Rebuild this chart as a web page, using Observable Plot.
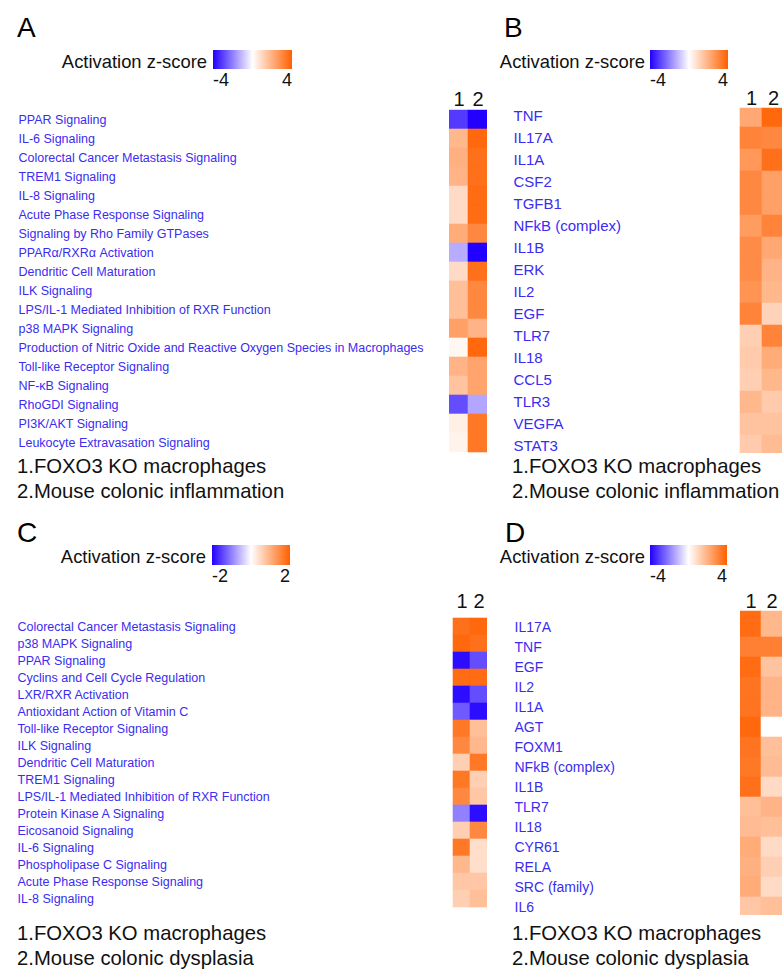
<!DOCTYPE html>
<html>
<head>
<meta charset="utf-8">
<script src="https://cdn.jsdelivr.net/npm/d3@7"></script>
<script src="https://cdn.jsdelivr.net/npm/@observablehq/plot@0.6"></script>
<style>
  html, body { margin: 0; padding: 0; background: #fff; overflow: hidden; }
  #root { position: relative; width: 782px; height: 969px; overflow: hidden; background: #fff;
          font-family: "Liberation Sans", Arial, Helvetica, sans-serif; }
  #root > svg, #root > figure, #root > div { position: absolute; margin: 0; }
</style>
</head>
<body>
<div id="root"></div>
<script>
// ---------------- DATA ----------------
const columns = ["1", "2"];

const rowsA = ["PPAR Signaling", "IL-6 Signaling", "Colorectal Cancer Metastasis Signaling", "TREM1 Signaling",
  "IL-8 Signaling", "Acute Phase Response Signaling", "Signaling by Rho Family GTPases", "PPARα/RXRα Activation",
  "Dendritic Cell Maturation", "ILK Signaling", "LPS/IL-1 Mediated Inhibition of RXR Function", "p38 MAPK Signaling",
  "Production of Nitric Oxide and Reactive Oxygen Species in Macrophages", "Toll-like Receptor Signaling",
  "NF-κB Signaling", "RhoGDI Signaling", "PI3K/AKT Signaling", "Leukocyte Extravasation Signaling"];
const zA1 = [-3.1, 1.8, 2.0, 1.9, 0.9, 0.9, 2.1, -1.3, 0.9, 1.6, 1.6, 2.4, 0.2, 1.9, 1.5, -2.8, 0.4, 0.3];
const zA2 = [-4.0, 3.8, 3.6, 3.6, 3.7, 3.7, 3.0, -4.0, 3.6, 3.0, 3.0, 1.9, 3.8, 2.3, 2.3, -1.4, 3.4, 3.4];

const rowsB = ["TNF", "IL17A", "IL1A", "CSF2", "TGFB1", "NFkB (complex)", "IL1B", "ERK", "IL2", "EGF",
  "TLR7", "IL18", "CCL5", "TLR3", "VEGFA", "STAT3"];
const zB1 = [2.2, 3.1, 2.6, 3.0, 3.0, 2.5, 2.9, 2.9, 2.7, 3.1, 1.2, 1.3, 1.2, 1.8, 1.5, 1.3];
const zB2 = [3.8, 3.0, 3.6, 2.4, 2.4, 3.1, 2.2, 1.9, 1.8, 1.1, 3.1, 2.1, 1.8, 1.3, 1.5, 1.7];

const rowsC = ["Colorectal Cancer Metastasis Signaling", "p38 MAPK Signaling", "PPAR Signaling",
  "Cyclins and Cell Cycle Regulation", "LXR/RXR Activation", "Antioxidant Action of Vitamin C",
  "Toll-like Receptor Signaling", "ILK Signaling", "Dendritic Cell Maturation", "TREM1 Signaling",
  "LPS/IL-1 Mediated Inhibition of RXR Function", "Protein Kinase A Signaling", "Eicosanoid Signaling",
  "IL-6 Signaling", "Phospholipase C Signaling", "Acute Phase Response Signaling", "IL-8 Signaling"];
const zC1 = [1.8, 1.9, -1.9, 1.85, -1.9, -1.3, 1.7, 1.5, 0.6, 1.7, 1.5, -1.0, 0.6, 1.7, 0.9, 0.7, 0.6];
const zC2 = [1.9, 1.8, -1.4, 1.85, -1.4, -1.9, 0.8, 0.9, 1.7, 0.6, 0.7, -1.9, 1.5, 0.4, 0.4, 0.7, 0.8];

// first entry: row scrolled out of view at the top of panel D (label cut off)
const rowsD = ["", "IL17A", "TNF", "EGF", "IL2", "IL1A", "AGT", "FOXM1", "NFkB (complex)", "IL1B", "TLR7",
  "IL18", "CYR61", "RELA", "SRC (family)", "IL6"];
const zD1 = [3.7, 3.7, 3.2, 3.7, 3.5, 3.5, 3.8, 3.5, 3.4, 3.6, 1.6, 1.7, 2.1, 2.0, 2.1, 1.4];
const zD2 = [1.8, 1.8, 3.2, 1.5, 1.9, 1.9, 0.0, 1.6, 1.7, 0.9, 1.9, 1.6, 0.9, 1.2, 0.9, 1.6];

const legendTicksA = [-4, 4], legendTicksB = [-4, 4], legendTicksC = [-2, 2], legendTicksD = [-4, 4];
const legendTitle = "Activation z-score";
const letters = ["A", "B", "C", "D"];
const footA = ["1.FOXO3 KO macrophages", "2.Mouse colonic inflammation"];
const footB = ["1.FOXO3 KO macrophages", "2.Mouse colonic inflammation"];
const footC = ["1.FOXO3 KO macrophages", "2.Mouse colonic dysplasia"];
const footD = ["1.FOXO3 KO macrophages", "2.Mouse colonic dysplasia"];

// ---------------- STYLE ----------------
const BLUE = "#2200ff", WHITE = "#ffffff", ORANGE = "#ff6000";
const LABEL = "#3a2cf2";
const FONT = '"Liberation Sans", Arial, Helvetica, sans-serif';
const interp = d3.piecewise(d3.interpolateRgb, [BLUE, WHITE, ORANGE]);

const root = document.getElementById("root");

function table(rows, v1, v2) {
  const out = [];
  rows.forEach((r, i) => {
    out.push({row: r, col: columns[0], z: v1[i]});
    out.push({row: r, col: columns[1], z: v2[i]});
  });
  return out;
}

function heat(cfg) {
  const data = table(cfg.rows, cfg.v1, cfg.v2);
  const p = Plot.plot({
    width: cfg.width, height: cfg.height,
    marginLeft: cfg.ml, marginRight: cfg.mr, marginTop: cfg.mt, marginBottom: cfg.mb,
    style: {fontFamily: FONT, background: "transparent", overflow: "visible"},
    x: {type: "band", domain: columns, padding: 0, axis: null},
    y: {type: "band", domain: cfg.rows, padding: 0, axis: null, range: cfg.yr},
    color: {type: "linear", domain: [-cfg.m, cfg.m], interpolate: interp, clamp: true},
    marks: [
      Plot.cell(data, {x: "col", y: "row", fill: "z", stroke: "z", strokeWidth: 0.6, inset: 0, clip: "frame"}),
      Plot.text(columns, {x: d => d, text: d => d, frameAnchor: "top", lineAnchor: "bottom",
        dy: cfg.hdy, fontSize: 20, fill: "#111"}),
      Plot.text(cfg.rows, {y: d => d, text: d => d, frameAnchor: "left", textAnchor: "start",
        dx: cfg.ldx, fontSize: cfg.lfs, fill: LABEL})
    ]
  });
  p.style.left = cfg.left + "px";
  p.style.top = cfg.top + "px";
  root.appendChild(p);
}

// A: rows 106.4–455.6 (view clipped to 109.3–455)
heat({rows: rowsA, v1: zA1, v2: zA2, m: 4, left: 0, top: 80, width: 490, height: 385,
  ml: 449, mr: 3, mt: 29.3, mb: 10, yr: [26.4, 375.6], hdy: -4, ldx: -431, lfs: 12.5});
// B: rows 103.5–458.7 (view clipped to 107.7–453)
heat({rows: rowsB, v1: zB1, v2: zB2, m: 4, left: 490, top: 80, width: 294, height: 385,
  ml: 249, mr: 0, mt: 27.7, mb: 12, yr: [23.5, 378.7], hdy: -3, ldx: -226, lfs: 15});
// C: rows 611–914.7
heat({rows: rowsC, v1: zC1, v2: zC2, m: 2, left: 0, top: 580, width: 490, height: 345,
  ml: 452, mr: 3, mt: 30.7, mb: 12, yr: [31, 334.7], hdy: -3, ldx: -435, lfs: 12.5});
// D: rows 595.7–919.1 (view clipped to 610.7–915)
heat({rows: rowsD, v1: zD1, v2: zD2, m: 4, left: 490, top: 580, width: 294, height: 345,
  ml: 250, mr: 2, mt: 30.7, mb: 10, yr: [15.7, 339.1], hdy: -3, ldx: -226, lfs: 14});

// ---------------- ANNOTATIONS (letters, legends, footers) ----------------
const svg = d3.create("svg").attr("width", 782).attr("height", 969)
  .style("left", "0px").style("top", "0px").style("pointer-events", "none")
  .attr("font-family", FONT);

const grad = svg.append("defs").append("linearGradient").attr("id", "zgrad");
d3.range(0, 1.0001, 0.05).forEach(t => grad.append("stop").attr("offset", t).attr("stop-color", interp(t)));

const panels = [
  {letter: letters[0], lx: 17, ly: 37, tEnd: 207, tBase: 68, bx: 213, bw: 79, by: 50, bh: 19, kBase: 86, ticks: legendTicksA, fx: 17, fb: 473, foot: footA},
  {letter: letters[1], lx: 504, ly: 37, tEnd: 645, tBase: 68, bx: 650, bw: 78, by: 50, bh: 19, kBase: 86, ticks: legendTicksB, fx: 512, fb: 473, foot: footB},
  {letter: letters[2], lx: 17, ly: 542, tEnd: 206, tBase: 563, bx: 212, bw: 78, by: 545, bh: 20, kBase: 582, ticks: legendTicksC, fx: 17, fb: 940, foot: footC},
  {letter: letters[3], lx: 505, ly: 542, tEnd: 645, tBase: 563, bx: 650, bw: 77, by: 545, bh: 20, kBase: 582, ticks: legendTicksD, fx: 512, fb: 940, foot: footD}
];

panels.forEach(p => {
  svg.append("text").attr("x", p.lx).attr("y", p.ly).attr("font-size", 28).attr("fill", "#000").text(p.letter);
  svg.append("text").attr("x", p.tEnd).attr("y", p.tBase).attr("font-size", 18.4).attr("text-anchor", "end")
    .attr("fill", "#111").text(legendTitle);
  svg.append("rect").attr("x", p.bx).attr("y", p.by).attr("width", p.bw).attr("height", p.bh).attr("fill", "url(#zgrad)");
  svg.append("text").attr("x", p.bx).attr("y", p.kBase).attr("font-size", 18).attr("fill", "#111")
    .text(String(p.ticks[0]));
  svg.append("text").attr("x", p.bx + p.bw).attr("y", p.kBase).attr("font-size", 18).attr("text-anchor", "end")
    .attr("fill", "#111").text(String(p.ticks[1]));
  p.foot.forEach((s, i) => {
    svg.append("text").attr("x", p.fx).attr("y", p.fb + i * 25).attr("font-size", 20.3).attr("fill", "#111").text(s);
  });
});

root.appendChild(svg.node());
</script>
</body>
</html>
